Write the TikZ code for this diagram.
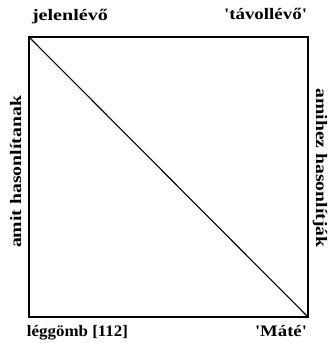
\documentclass[tikz,border=0pt]{standalone}
\usepackage{fontspec}
\setmainfont{Liberation Serif}
\usepackage{graphicx}
\newcommand{\lbl}[2]{\resizebox{#1pt}{\height}{\bfseries\fontsize{16}{16}\selectfont #2}}
\begin{document}
\begin{tikzpicture}[x=1pt,y=1pt,
  lab/.style={inner sep=0pt,outer sep=0pt},
  edge/.style={line width=1.3pt,line cap=rect,line join=miter}]
\useasboundingbox (0,0) rectangle (331,343);
\coordinate (tl) at (29,306);
\coordinate (tr) at (308,306);
\coordinate (br) at (308,26);
\coordinate (bl) at (29,26);
\draw[edge] (tl) -- (tr) -- (br) -- (bl) -- cycle;
\draw[line width=1.1pt] (tl) -- (br);
\node[lab,anchor=base west] (n1) at (32,322) {\lbl{76}{jelenlévő}};
\node[lab,anchor=base east] (n2) at (307,323) {\lbl{83}{\textquotesingle távollévő\textquotesingle}};
\node[lab,anchor=base west] (n3) at (27,6) {\lbl{101}{léggömb [112]}};
\node[lab,anchor=base east] (n4) at (307,6) {\lbl{52}{\textquotesingle Máté\textquotesingle}};
\node[lab,anchor=base,rotate=90] (n5) at (21,171) {\lbl{152}{amit hasonlítanak}};
\node[lab,anchor=base,rotate=-90] (n6) at (316,175) {\lbl{159}{amihez hasonlítják}};
\end{tikzpicture}
\end{document}
